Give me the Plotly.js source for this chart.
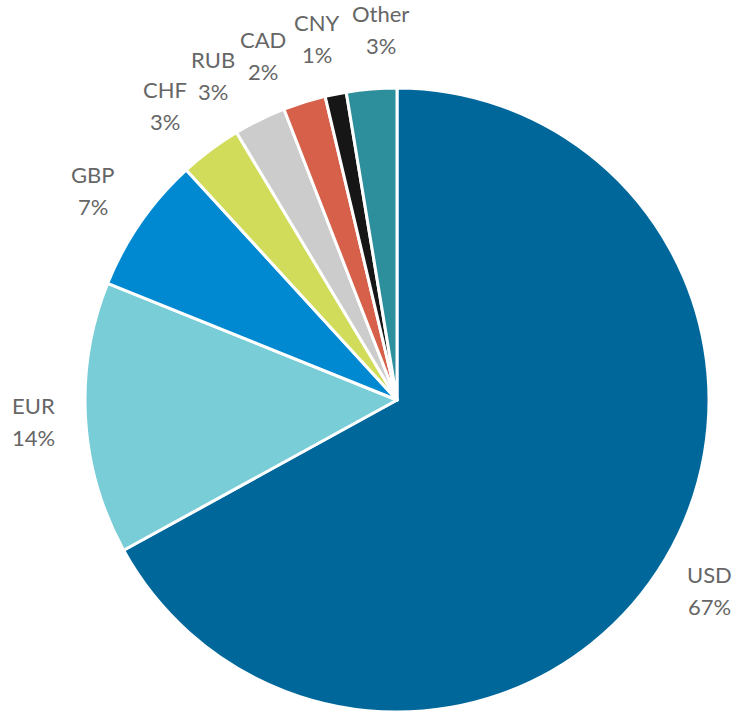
<!DOCTYPE html>
<html>
<head>
<meta charset="utf-8">
<script src="https://cdn.plot.ly/plotly-3.0.1.min.js"></script>
<style>html,body{margin:0;padding:0;background:#fff;}#chart{width:738px;height:714px;}</style>
</head>
<body>
<div id="chart"></div>
<script>
const currencies = ["USD", "EUR", "GBP", "CHF", "RUB", "CAD", "CNY", "Other"];
const shares = [67.0, 14.1, 7.1, 3.2, 2.7, 2.2, 1.1, 2.6];
const colors = ["#00679a", "#78cdd7", "#0089d0", "#d0dc5a", "#cccccc", "#d6604a", "#161616", "#2e8f9c"];

// label placement tweaks (px) to avoid overlapping labels, like the original layout
const labelNudgeX = [-4, 4, -1, -12, -22, -25, -8, 14];
const labelNudgeY = [-3, 0, 0, -1, -6, -7, 1, 4];

const total = shares.reduce((a, b) => a + b, 0);
const labelRadius = 1.18; // relative to pie radius
const lineGap = 16;
const font = { family: "Lato, 'Open Sans', sans-serif", size: 22, color: "#666666" };
const annotations = [];
let cum = 0;
shares.forEach((v, i) => {
  const mid = (cum + v / 2) / total * 2 * Math.PI;
  cum += v;
  const x = 0.5 + 0.5 * labelRadius * Math.sin(mid);
  const y = 0.5 + 0.5 * labelRadius * Math.cos(mid);
  const lines = [currencies[i], Math.round(v / total * 100) + "%"];
  lines.forEach((t, k) => {
    annotations.push({
      xref: "paper", yref: "paper", x: x, y: y,
      xanchor: "center", yanchor: "middle",
      xshift: labelNudgeX[i],
      yshift: labelNudgeY[i] + (k === 0 ? lineGap : -lineGap),
      showarrow: false, text: t, font: font
    });
  });
});

const data = [{
  type: "pie",
  labels: currencies,
  values: shares,
  sort: false,
  direction: "clockwise",
  rotation: 0,
  marker: { colors: colors, line: { color: "#ffffff", width: 3 } },
  textinfo: "none",
  hoverinfo: "label+percent",
  showlegend: false
}];

const layout = {
  width: 738, height: 714,
  margin: { l: 85, r: 29, t: 88, b: 2 },
  paper_bgcolor: "#ffffff",
  plot_bgcolor: "#ffffff",
  showlegend: false,
  annotations: annotations
};

Plotly.newPlot("chart", data, layout, { displayModeBar: false, staticPlot: true });
</script>
</body>
</html>
